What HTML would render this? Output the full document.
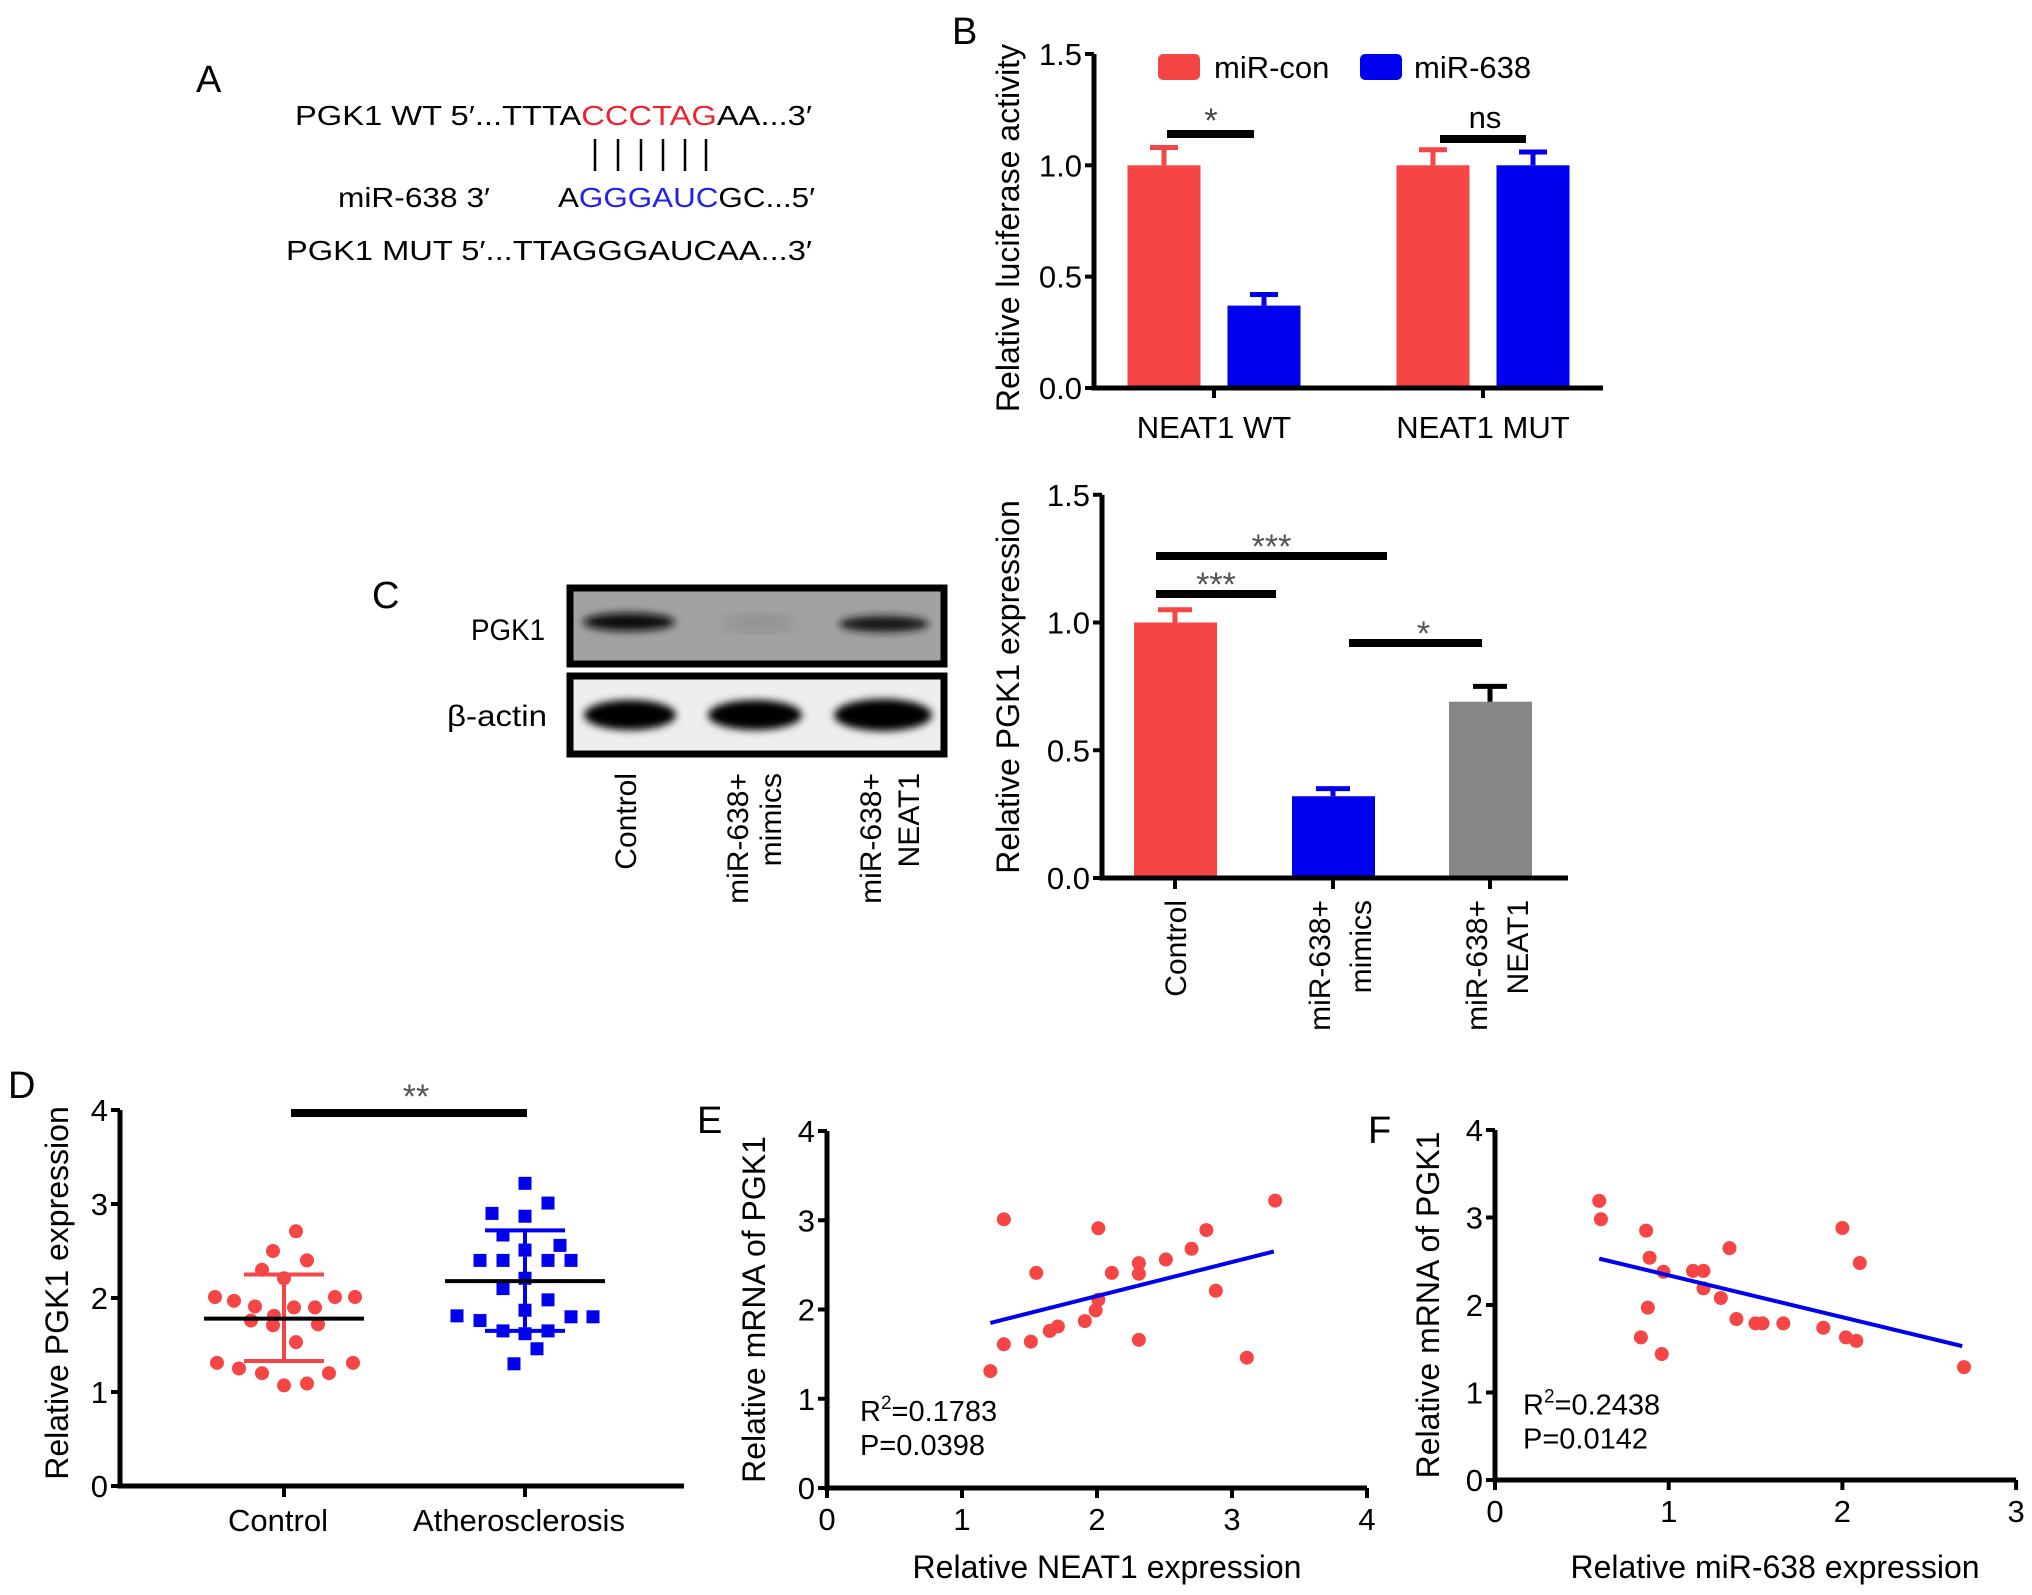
<!DOCTYPE html>
<html><head><meta charset="utf-8"><style>
html,body{margin:0;padding:0;background:#fff;}
svg{display:block;font-family:"Liberation Sans",Arial,sans-serif;}
</style></head><body>
<svg id="fig" width="2032" height="1595" viewBox="0 0 2032 1595" xmlns="http://www.w3.org/2000/svg">
<rect width="2032" height="1595" fill="#fff"/>
<g id="panelA">
 <text x="196" y="92" font-size="38">A</text>
 <text x="295" y="125" font-size="28" textLength="517" lengthAdjust="spacingAndGlyphs">PGK1 WT 5′...TTTA<tspan fill="#ee2233">CCCTAG</tspan>AA...3′</text>
 <g stroke="#000" stroke-width="2.5">
  <line x1="595" y1="139" x2="595" y2="171"/><line x1="618" y1="139" x2="618" y2="171"/><line x1="641" y1="139" x2="641" y2="171"/><line x1="663" y1="139" x2="663" y2="171"/><line x1="685" y1="139" x2="685" y2="171"/><line x1="706" y1="139" x2="706" y2="171"/>
 </g>
 <text x="338" y="207" font-size="28" textLength="152" lengthAdjust="spacingAndGlyphs">miR-638 3′</text>
 <text x="558" y="207" font-size="28" textLength="257" lengthAdjust="spacingAndGlyphs">A<tspan fill="#2222ee">GGGAUC</tspan>GC...5′</text>
 <text x="286" y="260" font-size="28" textLength="526" lengthAdjust="spacingAndGlyphs">PGK1 MUT 5′...TTAGGGAUCAA...3′</text>
</g>
<g id="panelB"></g>
<g id="panelC"></g>
<g id="panelD"></g>
<g id="panelE"></g>
<g id="panelF"></g>
</svg>
<script>
// ---------- data ----------
const bGroups = ["NEAT1 WT", "NEAT1 MUT"];
const bSeries = ["miR-con", "miR-638"];
const bMeans = [[1.0, 0.37], [1.0, 1.0]];
const bErr = [[1.08, 0.42], [1.07, 1.06]];
const bTicks = ["0.0", "0.5", "1.0", "1.5"];

const cCats = [["Control"], ["miR-638+", "mimics"], ["miR-638+", "NEAT1"]];
const cMeans = [1.0, 0.32, 0.69];
const cErr = [1.05, 0.35, 0.75];
const cTicks = ["0.0", "0.5", "1.0", "1.5"];

const dCats = ["Control", "Atherosclerosis"];
const dCtrlVals = [2.71,2.50,2.40,2.30,2.21,2.01,1.97,2.01,2.01,1.91,1.90,1.90,1.81,1.76,1.71,1.72,1.53,1.31,1.25,1.20,1.20,1.31,1.07,1.09];
const dCtrlJit = [12,-11,23,-22,0,-69,-50,51,71,-29,10,31,-10,-33,-11,34,12,-67,-45,-22,45,69,0,23];
const dAthVals = [3.22,3.01,2.90,2.87,2.67,2.56,2.51,2.40,2.40,2.40,2.40,2.21,2.10,1.98,1.87,1.81,1.76,1.80,1.80,1.65,1.62,1.65,1.46,1.30];
const dAthJit = [0,23,-33,0,-22,35,0,-45,-22,23,46,0,-22,23,0,-68,-45,46,68,-22,0,23,12,-11];
const dMean = [1.78, 2.18];
const dSdLo = [1.33, 1.65];
const dSdHi = [2.25, 2.72];
const dTicks = ["0","1","2","3","4"];

const eX = [1.31,2.01,3.32,1.55,2.11,2.31,2.31,2.51,2.70,2.81,2.88,2.01,1.99,1.91,1.71,1.65,1.51,1.31,2.31,3.11,1.21];
const eY = [3.01,2.91,3.22,2.41,2.41,2.52,2.40,2.56,2.68,2.89,2.21,2.11,1.99,1.87,1.81,1.76,1.64,1.61,1.66,1.46,1.31];
const eFitX = [1.21, 3.31];
const eFitY = [1.85, 2.65];
const eXTicks = ["0","1","2","3","4"];
const eYTicks = ["0","1","2","3","4"];

const fX = [0.60,0.61,0.87,0.89,0.97,1.14,1.20,1.20,1.35,1.30,0.88,1.39,1.50,1.54,1.66,1.89,2.00,2.10,2.02,2.08,0.84,0.96,2.70];
const fY = [3.19,2.98,2.85,2.54,2.38,2.39,2.39,2.19,2.65,2.08,1.97,1.84,1.79,1.79,1.79,1.74,2.88,2.48,1.63,1.59,1.63,1.44,1.29];
const fFitX = [0.60, 2.69];
const fFitY = [2.53, 1.53];
const fXTicks = ["0","1","2","3"];
const fYTicks = ["0","1","2","3","4"];

// ---------- helpers ----------
const NS = "http://www.w3.org/2000/svg";
function mk(parent, tag, attrs, text) {
  const el = document.createElementNS(NS, tag);
  for (const k in attrs) el.setAttribute(k, attrs[k]);
  if (text !== undefined) el.textContent = text;
  parent.appendChild(el);
  return el;
}
const RED = "#f54545", BLUE = "#0000ee", GRAY = "#878787";

// ---------- Panel B ----------
(function(){
  const g = document.getElementById("panelB");
  const X0 = 1094, XE = 1603, Y0 = 388, U = 222.7;
  const y = v => Y0 - v * U;
  const groupCenters = [1214, 1483];
  const barW = 73, off = [-50, 50];
  const colors = [RED, BLUE];
  let t = mk(g, "text", {x: 952, y: 44, "font-size": 38});
  t.textContent = "B";
  
  
  bMeans.forEach((grp, gi) => {
    grp.forEach((v, si) => {
      const cx = groupCenters[gi] + off[si];
      const r = mk(g, "rect", {x: cx - barW/2, y: y(v), width: barW, height: Y0 - y(v), fill: colors[si]});
      
      
      const e = mk(g, "path", {d: `M${cx} ${y(v)} V${y(bErr[gi][si])} M${cx-14} ${y(bErr[gi][si])} H${cx+14}`, stroke: colors[si], "stroke-width": 5, fill: "none"});
      
      
    });
    const lab = mk(g, "text", {x: groupCenters[gi], y: 438, "font-size": 31, "text-anchor": "middle"}, bGroups[gi]);
    
    
    mk(g, "line", {x1: groupCenters[gi], y1: Y0, x2: groupCenters[gi], y2: Y0 + 10, stroke: "#000", "stroke-width": 4});
  });
  const ax = mk(g, "path", {d: `M${X0} ${y(1.5)} V${Y0} H${XE}`, stroke: "#000", "stroke-width": 5, fill: "none"});
  
  
  bTicks.forEach((tk, i) => {
    const v = parseFloat(tk);
    mk(g, "line", {x1: X0 - 9, y1: y(v), x2: X0, y2: y(v), stroke: "#000", "stroke-width": 4});
    const tl = mk(g, "text", {x: X0 - 12, y: y(v) + 11, "font-size": 31, "text-anchor": "end"}, tk);
    
    
  });
  const yl = mk(g, "text", {x: 0, y: 0, "font-size": 32, "text-anchor": "middle", transform: "translate(1019 228) rotate(-90)"}, "Relative luciferase activity");
  
  
  const lg = mk(g, "g", {});
  
  
  mk(lg, "rect", {x: 1158, y: 54, width: 42, height: 26, rx: 5, fill: RED});
  mk(lg, "text", {x: 1214, y: 78, "font-size": 31}, "miR-con");
  mk(lg, "rect", {x: 1360, y: 54, width: 42, height: 26, rx: 5, fill: BLUE});
  mk(lg, "text", {x: 1414, y: 78, "font-size": 31}, "miR-638");
  mk(g, "rect", {x: 1167, y: 130, width: 87, height: 8, fill: "#000"});
  mk(g, "text", {x: 1211, y: 132, "font-size": 34, "text-anchor": "middle", fill: "#444"}, "*");
  mk(g, "rect", {x: 1440, y: 135, width: 86, height: 8, fill: "#000"});
  mk(g, "text", {x: 1485, y: 128, "font-size": 31, "text-anchor": "middle"}, "ns");
})();

// ---------- Panel C ----------
(function(){
  const g = document.getElementById("panelC");
  let t = mk(g, "text", {x: 372, y: 608, "font-size": 38}, "C");
  
  
  const wb = mk(g, "g", {});
  
  
  const defs = mk(wb, "defs", {});
  const flt = mk(defs, "filter", {id: "blur", x: "-20%", y: "-50%", width: "140%", height: "200%"});
  mk(flt, "feGaussianBlur", {stdDeviation: 4});
  const flt2 = mk(defs, "filter", {id: "blur2", x: "-20%", y: "-50%", width: "140%", height: "200%"});
  mk(flt2, "feGaussianBlur", {stdDeviation: 8});
  mk(wb, "rect", {x: 570, y: 588, width: 374, height: 76, fill: "#a2a2a2", stroke: "#000", "stroke-width": 7});
  mk(wb, "ellipse", {cx: 629, cy: 622, rx: 46, ry: 9, fill: "#111", filter: "url(#blur)"});
  mk(wb, "ellipse", {cx: 758, cy: 623, rx: 38, ry: 6, fill: "#888", filter: "url(#blur2)"});
  mk(wb, "ellipse", {cx: 884, cy: 624, rx: 45, ry: 8, fill: "#151515", filter: "url(#blur)"});
  mk(wb, "rect", {x: 570, y: 676, width: 374, height: 78, fill: "#eeeeee", stroke: "#000", "stroke-width": 7});
  mk(wb, "ellipse", {cx: 630, cy: 715, rx: 46, ry: 15, fill: "#000", filter: "url(#blur)"});
  mk(wb, "ellipse", {cx: 755, cy: 715, rx: 47, ry: 15, fill: "#000", filter: "url(#blur)"});
  mk(wb, "ellipse", {cx: 883, cy: 715, rx: 49, ry: 16, fill: "#000", filter: "url(#blur)"});
  const p1 = mk(g, "text", {x: 545, y: 640, "font-size": 30, "text-anchor": "end", textLength: 74, lengthAdjust: "spacingAndGlyphs"}, "PGK1");
  
  
  const p2 = mk(g, "text", {x: 547, y: 726, "font-size": 30, "text-anchor": "end", textLength: 100, lengthAdjust: "spacingAndGlyphs"}, "β-actin");
  
  
  const blotX = [[625], [737, 770], [870, 908]];
  cCats.forEach((lines, i) => {
    lines.forEach((ln, j) => {
      const tx = mk(g, "text", {x: 0, y: 0, "font-size": 30, "text-anchor": "end", transform: `translate(${blotX[i][j] + 11} 773) rotate(-90)`}, ln);
      
      
    });
  });
  const X0 = 1102, XE = 1568, Y0 = 878, U = 255.5;
  const y = v => Y0 - v * U;
  const centers = [1175, 1333, 1490];
  const cols = [RED, BLUE, GRAY];
  const capCol = [RED, BLUE, "#000"];
  cMeans.forEach((v, i) => {
    const r = mk(g, "rect", {x: centers[i] - 41, y: y(v), width: 83, height: Y0 - y(v), fill: cols[i]});
    
    
    const e = mk(g, "path", {d: `M${centers[i]} ${y(v)} V${y(cErr[i])} M${centers[i]-17} ${y(cErr[i])} H${centers[i]+17}`, stroke: capCol[i], "stroke-width": 5, fill: "none"});
    
    
    mk(g, "line", {x1: centers[i], y1: Y0, x2: centers[i], y2: Y0 + 11, stroke: "#000", "stroke-width": 4});
    const lines = cCats[i];
    const offs = lines.length === 1 ? [0] : [-14, 27];
    lines.forEach((ln, j) => {
      const tx = mk(g, "text", {x: 0, y: 0, "font-size": 30, "text-anchor": "end", transform: `translate(${centers[i] + offs[j] + 11} 900) rotate(-90)`}, ln);
      
      
    });
  });
  const ax = mk(g, "path", {d: `M${X0} ${y(1.5)} V${Y0} H${XE}`, stroke: "#000", "stroke-width": 5, fill: "none"});
  
  
  cTicks.forEach(tk => {
    const v = parseFloat(tk);
    mk(g, "line", {x1: X0 - 9, y1: y(v), x2: X0, y2: y(v), stroke: "#000", "stroke-width": 4});
    const tl = mk(g, "text", {x: X0 - 12, y: y(v) + 11, "font-size": 31, "text-anchor": "end"}, tk);
    
    
  });
  const yl = mk(g, "text", {x: 0, y: 0, "font-size": 32, "text-anchor": "middle", transform: "translate(1019 687) rotate(-90)"}, "Relative PGK1 expression");
  
  
  const sig = [[1156, 1387, 556, "***"], [1156, 1276, 594, "***"], [1349, 1482, 643, "*"]];
  sig.forEach(s => {
    const b = mk(g, "rect", {x: s[0], y: s[2] - 4, width: s[1] - s[0], height: 8, fill: "#000"});
    
    
    mk(g, "text", {x: (s[0] + s[1]) / 2 + (s[3] === "*" ? 8 : 0), y: s[2] + 2, "font-size": 34, "text-anchor": "middle", fill: "#555"}, s[3]);
  });
})();

// ---------- Panel D ----------
(function(){
  const g = document.getElementById("panelD");
  const X0 = 120, XE = 684, Y0 = 1486, U = 94;
  const y = v => Y0 - v * U;
  const centers = [284, 525];
  let t = mk(g, "text", {x: 8, y: 1098, "font-size": 38}, "D");
  
  
  const ax = mk(g, "path", {d: `M${X0} ${y(4)} V${Y0} H${XE}`, stroke: "#000", "stroke-width": 5, fill: "none"});
  
  
  dTicks.forEach(tk => {
    const v = parseFloat(tk);
    mk(g, "line", {x1: X0 - 9, y1: y(v), x2: X0, y2: y(v), stroke: "#000", "stroke-width": 4});
    const tl = mk(g, "text", {x: X0 - 12, y: y(v) + 11, "font-size": 31, "text-anchor": "end"}, tk);
    
    
  });
  dCats.forEach((c, i) => {
    mk(g, "line", {x1: centers[i], y1: Y0, x2: centers[i], y2: Y0 + 11, stroke: "#000", "stroke-width": 4});
    const tl = mk(g, "text", {x: centers[i] - 6, y: 1531, "font-size": 31, "text-anchor": "middle"}, c);
    
    
  });
  const yl = mk(g, "text", {x: 0, y: 0, "font-size": 32, "text-anchor": "middle", transform: "translate(68 1293) rotate(-90)"}, "Relative PGK1 expression");
  
  
  dCtrlVals.forEach((v, i) => {
    const c = mk(g, "circle", {cx: centers[0] + dCtrlJit[i], cy: y(v), r: 7, fill: RED});
    
    
  });
  dAthVals.forEach((v, i) => {
    const s = mk(g, "rect", {x: centers[1] + dAthJit[i] - 6.5, y: y(v) - 6.5, width: 13, height: 13, fill: BLUE});
    
    
  });
  const sdCols = [RED, BLUE];
  [0, 1].forEach(i => {
    const c = centers[i];
    const sd = mk(g, "path", {d: `M${c} ${y(dSdLo[i])} V${y(dSdHi[i])} M${c-40} ${y(dSdHi[i])} H${c+40} M${c-40} ${y(dSdLo[i])} H${c+40}`, stroke: sdCols[i], "stroke-width": 4, fill: "none"});
    
    
    const m = mk(g, "line", {x1: c - 80, y1: y(dMean[i]), x2: c + 80, y2: y(dMean[i]), stroke: "#000", "stroke-width": 4});
    
    
  });
  const sb = mk(g, "rect", {x: 291, y: 1109, width: 236, height: 8, fill: "#000"});
  
  
  mk(g, "text", {x: 416, y: 1108, "font-size": 34, "text-anchor": "middle", fill: "#555"}, "**");
})();

// ---------- Scatter panels ----------
function scatter(gid, letter, lx, ly, X0, XU, Y0, YU, xT, yT, xs, ys, fx, fy, yTitle, yTitleX, xTitle, xTitleX, xmax, statX, r2, p) {
  const g = document.getElementById(gid);
  const x = v => X0 + v * XU;
  const y = v => Y0 - v * YU;
  let t = mk(g, "text", {x: lx, y: ly, "font-size": 38}, letter);
  
  
  const ax = mk(g, "path", {d: `M${X0} ${y(4)} V${Y0} H${x(xmax)}`, stroke: "#000", "stroke-width": 5, fill: "none"});
  
  
  yT.forEach(tk => {
    const v = parseFloat(tk);
    mk(g, "line", {x1: X0 - 9, y1: y(v), x2: X0, y2: y(v), stroke: "#000", "stroke-width": 4});
    const tl = mk(g, "text", {x: X0 - 12, y: y(v) + 11, "font-size": 31, "text-anchor": "end"}, tk);
    
    
  });
  xT.forEach(tk => {
    const v = parseFloat(tk);
    mk(g, "line", {x1: x(v), y1: Y0, x2: x(v), y2: Y0 + 10, stroke: "#000", "stroke-width": 4});
    const tl = mk(g, "text", {x: x(v), y: Y0 + 42, "font-size": 31, "text-anchor": "middle"}, tk);
    
    
  });
  const yl = mk(g, "text", {x: 0, y: 0, "font-size": 32, "text-anchor": "middle", transform: `translate(${yTitleX} ${(y(0)+y(4))/2}) rotate(-90)`}, yTitle);
  
  
  const xl = mk(g, "text", {x: xTitleX, y: 1578, "font-size": 32, "text-anchor": "middle"}, xTitle);
  
  
  xs.forEach((v, i) => {
    const c = mk(g, "circle", {cx: x(v), cy: y(ys[i]), r: 7, fill: RED});
    
    
  });
  const fl = mk(g, "line", {x1: x(fx[0]), y1: y(fy[0]), x2: x(fx[1]), y2: y(fy[1]), stroke: BLUE, "stroke-width": 4});
  
  
  const st = mk(g, "text", {x: statX, y: y(0.75), "font-size": 29});
  
  
  st.appendChild(document.createTextNode("R"));
  mk(st, "tspan", {dy: -12, "font-size": 19}, "2");
  mk(st, "tspan", {dy: 12}, "=" + r2);
  const pt = mk(g, "text", {x: statX, y: y(0.75) + 34, "font-size": 29}, "P=" + p);
  
  
}
scatter("panelE", "E", 697, 1133, 827, 135, 1488, 89.25, eXTicks, eYTicks, eX, eY, eFitX, eFitY,
  "Relative mRNA of PGK1", 765, "Relative NEAT1 expression", 1107, 4, 860, "0.1783", "0.0398");
scatter("panelF", "F", 1368, 1143, 1495, 173.7, 1480, 87.5, fXTicks, fYTicks, fX, fY, fFitX, fFitY,
  "Relative mRNA of PGK1", 1439, "Relative miR-638 expression", 1775, 3, 1523, "0.2438", "0.0142");
</script>
</body></html>
